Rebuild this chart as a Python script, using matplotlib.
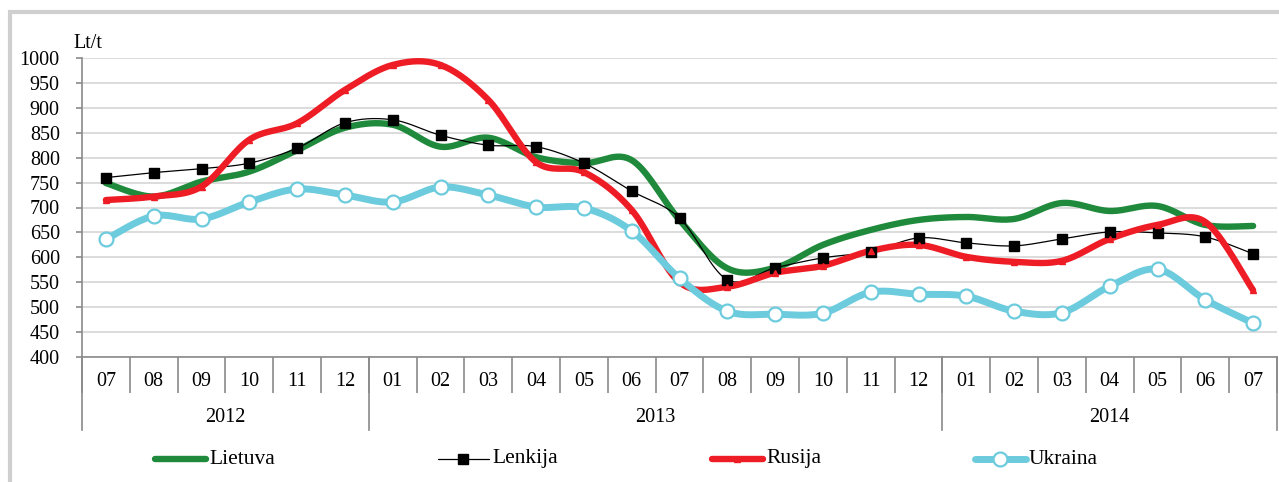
import numpy as np
import matplotlib
matplotlib.use("Agg")
import matplotlib.pyplot as plt
from matplotlib.lines import Line2D
from matplotlib.patches import Rectangle

months = ["07", "08", "09", "10", "11", "12",
          "01", "02", "03", "04", "05", "06", "07", "08", "09", "10", "11", "12",
          "01", "02", "03", "04", "05", "06", "07"]
years = ["2012", "2013", "2014"]
year_starts = [0, 6, 18, 25]

lietuva = [749, 722, 752, 772, 815, 860, 866, 822, 840, 801, 789, 795, 675,
           578, 579, 625, 655, 675, 681, 677, 709, 693, 703, 665, 663]
lenkija = [760, 770, 778, 789, 819, 870, 876, 845, 825, 822, 789, 733, 679,
           555, 579, 599, 611, 639, 629, 623, 637, 651, 649, 641, 607]
rusija = [715, 722, 742, 836, 869, 936, 986, 986, 916, 791, 771, 695, 550,
          541, 569, 583, 613, 625, 601, 591, 593, 637, 665, 671, 534]
ukraina = [636, 683, 677, 711, 737, 725, 711, 741, 725, 701, 699, 653, 558,
           492, 486, 488, 530, 526, 522, 492, 489, 542, 576, 515, 468]

plt.rcParams["font.family"] = ["Liberation Serif", "DejaVu Serif"]
FS = 14.5


def smooth(x, y, n=20):
    # Excel-like smoothed line (Catmull-Rom through the points)
    x = np.asarray(x, float)
    y = np.asarray(y, float)
    pts = np.c_[x, y]
    out = []
    for i in range(len(pts) - 1):
        p0 = pts[max(i - 1, 0)]
        p1 = pts[i]
        p2 = pts[i + 1]
        p3 = pts[min(i + 2, len(pts) - 1)]
        c1 = p1 + (p2 - p0) / 6
        c2 = p2 - (p3 - p1) / 6
        t = np.linspace(0, 1, n)[:, None]
        seg = ((1 - t) ** 3) * p1 + 3 * ((1 - t) ** 2) * t * c1 + 3 * (1 - t) * t ** 2 * c2 + t ** 3 * p2
        out.append(seg if i == 0 else seg[1:])
    out = np.vstack(out)
    return out[:, 0], out[:, 1]


W, H = 1279, 482
fig = plt.figure(figsize=(W / 100, H / 100), dpi=100)
ax = fig.add_axes([82 / W, 1 - 357 / H, (1277 - 82) / W, (357 - 58) / H])

x = np.arange(len(months)) + 0.5

series = [
    ("Lietuva", lietuva, dict(color="#1f8a3b", lw=4.6), None),
    ("Lenkija", lenkija, dict(color="black", lw=0.9),
     dict(marker="s", ms=6.5, mfc="black", mec="black")),
    ("Rusija", rusija, dict(color="#ee1c25", lw=4.6),
     dict(marker="^", ms=5, mfc="#ee1c25", mec="#ee1c25")),
    ("Ukraina", ukraina, dict(color="#6ccbdc", lw=5),
     dict(marker="o", ms=10, mfc="white", mec="#6ccbdc", mew=1.6)),
]

for name, vals, lstyle, mstyle in series:
    sx, sy = smooth(x, vals)
    ax.plot(sx, sy, solid_capstyle="round", zorder=3, **lstyle)
    if mstyle:
        ax.plot(x, vals, ls="none", zorder=4, **mstyle)

ax.set_xlim(0, len(months))
ax.set_ylim(400, 1000)
ax.set_yticks(np.arange(400, 1001, 50))
ax.yaxis.grid(True, color="#d9d9d9", lw=1.3)
ax.set_axisbelow(True)

for s in ["top", "right"]:
    ax.spines[s].set_visible(False)
for s in ["left", "bottom"]:
    ax.spines[s].set_color("#8a8a8a")
    ax.spines[s].set_linewidth(1.2)

ax.tick_params(axis="y", length=4, width=1.2, color="#8a8a8a", pad=12, labelsize=FS)
ax.set_xticks([])
ax.set_xticks(np.arange(0, len(months) + 1), minor=True)
ax.tick_params(axis="x", which="minor", length=26, width=1.2, color="#8a8a8a", direction="out")
ax.set_xticklabels([], minor=True)

trans = ax.get_xaxis_transform()
for xi, m in zip(x, months):
    ax.text(xi, -24 / 299, m, transform=trans, ha="center", va="center", fontsize=FS)

for xs in year_starts:
    ax.plot([xs, xs], [0, -73 / 299], transform=trans, color="#8a8a8a", lw=1.2, clip_on=False)
for i, yr in enumerate(years):
    xc = (year_starts[i] + year_starts[i + 1]) / 2
    ax.text(xc, -60 / 299, yr, transform=trans, ha="center", va="center", fontsize=FS)

fig.text(73 / W, 1 - 43 / H, "Lt/t", ha="left", va="center", fontsize=FS)

# legend entries drawn by hand to match spacing
leg_x = [155, 438, 712, 975]
ly = 1 - 459 / H
for (name, vals, lstyle, mstyle), lx in zip(series, leg_x):
    fig.add_artist(Line2D([lx / W, (lx + 51) / W], [ly, ly], solid_capstyle="round", **lstyle))
    if mstyle:
        fig.add_artist(Line2D([(lx + 25) / W], [ly], ls="none", **mstyle))
    fig.text((lx + 54) / W, ly, name, ha="left", va="center", fontsize=15.5)

# outer frame
fig.add_artist(Rectangle((10 / W, -0.2), 1.2, 1.2 - 12 / H, transform=fig.transFigure,
                         fill=False, ec="#cfcfcf", lw=3))

fig.savefig("out.png", dpi=100)
